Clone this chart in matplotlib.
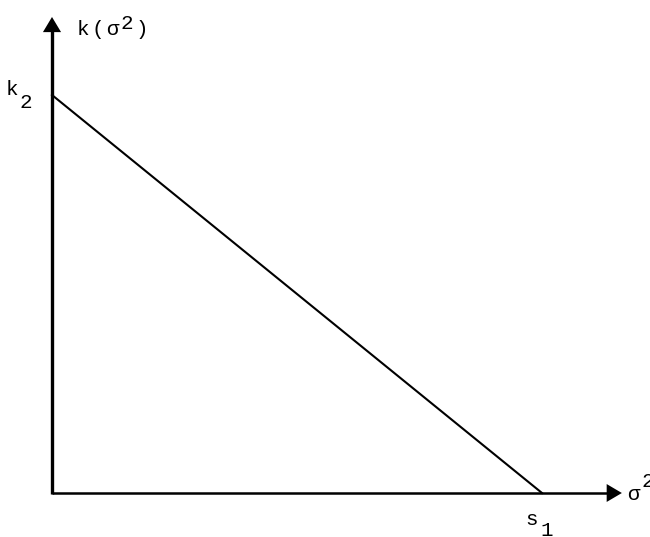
import matplotlib.pyplot as plt
from matplotlib.patches import FancyArrow

# line k(sigma^2) falling from k2 on the vertical axis to s1 on the horizontal axis
k_vals = [1.0, 0.0]
s_vals = [0.0, 1.0]
x_end = 1.163
y_end = 1.196

mono = ['Liberation Mono', 'DejaVu Sans Mono']

fig = plt.figure(figsize=(6.5, 5.37), dpi=100)
ax = fig.add_axes([0, 0, 1, 1])
ax.set_xlim(-52 / 490, 598 / 490)
ax.set_ylim(-44 / 398, 493 / 398)
ax.axis('off')

# axes with filled arrowheads
hx_len, hx_wid = 0.031, 0.045
hy_len, hy_wid = 0.038, 0.037
ax.plot([0, x_end - hx_len + 0.005], [0, 0], color='black', lw=1.8, solid_capstyle='butt')
ax.plot([0, 0], [-0.003, y_end - hy_len + 0.005], color='black', lw=2.4, solid_capstyle='butt')
ax.add_patch(FancyArrow(x_end - hx_len, 0, hx_len, 0, width=0, head_width=hx_wid,
                        head_length=hx_len, length_includes_head=True,
                        color='black', lw=0))
ax.add_patch(FancyArrow(0, y_end - hy_len, 0, hy_len, width=0, head_width=hy_wid,
                        head_length=hy_len, length_includes_head=True,
                        color='black', lw=0))

ax.plot(s_vals, k_vals, color='black', lw=1.5)

fs = 15


def glyph(x, y, s):
    ax.text(x, y, s, family=mono, fontsize=fs, va='baseline', ha='left')


# vertical axis label k(sigma^2)
glyph(0.051, 1.151, 'k')
glyph(0.080, 1.151, '(')
glyph(0.110, 1.151, 'σ')
glyph(0.140, 1.165, '2')
glyph(0.170, 1.151, ')')

# k2 at the top of the line
glyph(-0.094, 1.0, 'k')
glyph(-0.066, 0.968, '2')

# s1 at the foot of the line
glyph(0.966, -0.080, 's')
glyph(0.997, -0.107, '1')

# horizontal axis label sigma^2
glyph(1.174, -0.018, 'σ')
glyph(1.203, 0.015, '2')

fig.savefig('out.png', dpi=100)
